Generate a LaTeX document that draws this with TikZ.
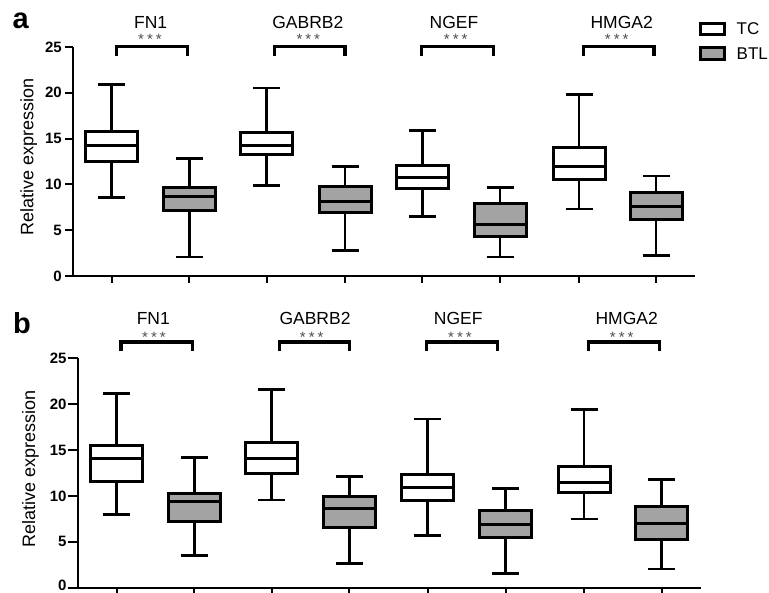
\documentclass[tikz,border=0pt]{standalone}
\usepackage{fontspec}
\setmainfont{Liberation Sans}
\definecolor{btlgray}{RGB}{163,163,163}
\tikzset{
  axisline/.style={line width=2pt},
  boxline/.style={line width=3pt},
  whisk/.style={line width=2.8pt},
  brk/.style={line width=3.2pt, line join=miter},
  ticklab/.style={font=\fontsize{15}{15}\selectfont\bfseries, anchor=east, inner sep=0pt},
  genelab/.style={font=\fontsize{17.5}{17.5}\selectfont, anchor=base, inner sep=0pt},
  starlab/.style={font=\fontsize{15}{15}\selectfont, anchor=base, inner sep=0pt, text=black!70},
  ylab/.style={font=\fontsize{18}{18}\selectfont, rotate=90, inner sep=0pt},
  panel/.style={font=\fontsize{29}{29}\selectfont\bfseries, anchor=base west, inner sep=0pt},
  leglab/.style={font=\fontsize{17}{17}\selectfont, anchor=base west, inner sep=0pt},
}
% #1 x, #2 axis y (value 0), #3 low, #4 q1, #5 median, #6 q3, #7 high, #8 fill
\newcommand{\bwplot}[8]{%
  \pgfmathsetmacro\bwlo{#2-9.17*#3}%
  \pgfmathsetmacro\bwqa{#2-9.17*#4}%
  \pgfmathsetmacro\bwme{#2-9.17*#5}%
  \pgfmathsetmacro\bwqb{#2-9.17*#6}%
  \pgfmathsetmacro\bwhi{#2-9.17*#7}%
  \draw[whisk] (#1,\bwlo) -- (#1,\bwqa) (#1,\bwqb) -- (#1,\bwhi);
  \draw[whisk] (#1-13.5,\bwlo) -- (#1+13.5,\bwlo) (#1-13.5,\bwhi) -- (#1+13.5,\bwhi);
  \filldraw[boxline, fill=#8] (#1-26,\bwqa) rectangle (#1+26,\bwqb);
  \draw[boxline] (#1-26,\bwme) -- (#1+26,\bwme);
}
\newcommand{\bracketat}[3]{% x1, x2, top y
  \draw[brk] (#1,#3+9.5) -- (#1,#3) -- (#2,#3) -- (#2,#3+9.5);
}
\begin{document}
\begin{tikzpicture}[x=1pt,y=-1pt]
\useasboundingbox (0,0) rectangle (769,593);

% ================= panel a =================
\node[panel] (pa) at (12.5,28.5) {a};
% axes
\draw[axisline] (72.7,47) -- (72.7,276) -- (695,276);
\foreach \v in {0,5,10,15,20,25} {
  \draw[axisline] (65,276-9.16*\v) -- (72.7,276-9.16*\v);
  \node[ticklab] (ta\v) at (62,276-9.16*\v) {\v};
}
\foreach \x in {111.7,189.3,266.7,345,422.3,500,579,656} {
  \draw[axisline] (\x,276) -- (\x,283);
}
\node[ylab] (yla) at (28.7,157) {Relative expression};

% boxes
\bwplot{111.7}{276}{8.6}{12.5}{14.2}{15.8}{20.9}{white}
\bwplot{189.3}{276}{2.07}{7.1}{8.65}{9.7}{12.8}{btlgray}
\bwplot{266.7}{276}{9.9}{13.3}{14.25}{15.6}{20.5}{white}
\bwplot{345}{276}{2.76}{6.9}{8.07}{9.75}{11.9}{btlgray}
\bwplot{422.3}{276}{6.5}{9.5}{10.7}{12.1}{15.9}{white}
\bwplot{500}{276}{2.07}{4.3}{5.67}{7.9}{9.67}{btlgray}
\bwplot{579}{276}{7.3}{10.5}{11.9}{14.0}{19.8}{white}
\bwplot{656}{276}{2.2}{6.2}{7.55}{9.1}{10.9}{btlgray}

% brackets, stars, gene names
\bracketat{116.7}{187.7}{46.5}
\bracketat{274.3}{345}{46.5}
\bracketat{421.7}{493.3}{46.5}
\bracketat{583.3}{654}{46.5}
\node[starlab] (sa1) at (150,44.5) {*\kern3pt*\kern3pt*};
\node[starlab] (sa2) at (308.3,44.5) {*\kern3pt*\kern3pt*};
\node[starlab] (sa3) at (455.7,44.5) {*\kern3pt*\kern3pt*};
\node[starlab] (sa4) at (616.7,44.5) {*\kern3pt*\kern3pt*};
\node[genelab] (ga1) at (150.7,29) {FN1};
\node[genelab] (ga2) at (307.8,29) {GABRB2};
\node[genelab] (ga3) at (454,29) {NGEF};
\node[genelab] (ga4) at (621.7,29) {HMGA2};

% legend
\draw[boxline] (700,23.5) rectangle (724,34.5);
\filldraw[boxline, fill=btlgray] (700,48) rectangle (724,60);
\node[leglab] (ltc) at (736.5,34.5) {TC};
\node[leglab] (lbtl) at (736.5,60) {BTL};

% ================= panel b =================
\node[panel] (pb) at (13,333.3) {b};
\draw[axisline] (78,358.3) -- (78,587.7) -- (700.7,587.7);
\foreach \v in {0,5,10,15,20,25} {
  \draw[axisline] (67.7,587.7-9.176*\v) -- (78,587.7-9.176*\v);
}
\foreach \v in {5,10,15,20,25} {
  \node[ticklab] (tb\v) at (66.7,587.7-9.176*\v) {\v};
}
\node[ticklab] (tb0) at (66.7,585.6) {0};
\foreach \x in {116.7,194.3,271.7,349.3,427.7,505.7,584,661.7} {
  \draw[axisline] (\x,587.7) -- (\x,600);
}
\node[ylab] (ylb) at (30.5,469) {Relative expression};

\bwplot{116.7}{587.7}{8.0}{11.56}{14.1}{15.56}{21.2}{white}
\bwplot{194.3}{587.7}{3.5}{7.27}{9.45}{10.3}{14.2}{btlgray}
\bwplot{271.7}{587.7}{9.56}{12.5}{14.1}{15.85}{21.6}{white}
\bwplot{349.3}{587.7}{2.6}{6.6}{8.65}{9.9}{12.1}{btlgray}
\bwplot{427.7}{587.7}{5.7}{9.5}{10.95}{12.3}{18.4}{white}
\bwplot{505.7}{587.7}{1.57}{5.45}{6.9}{8.4}{10.8}{btlgray}
\bwplot{584}{587.7}{7.5}{10.36}{11.45}{13.2}{19.45}{white}
\bwplot{661.7}{587.7}{2.04}{5.3}{7.0}{8.9}{11.8}{btlgray}

\bracketat{121}{192.3}{342}
\bracketat{279.3}{349.3}{342}
\bracketat{426.7}{497.3}{342}
\bracketat{588.3}{659.3}{342}
\node[starlab] (sb1) at (154,343) {*\kern3pt*\kern3pt*};
\node[starlab] (sb2) at (311.7,343) {*\kern3pt*\kern3pt*};
\node[starlab] (sb3) at (460,343) {*\kern3pt*\kern3pt*};
\node[starlab] (sb4) at (621.7,343) {*\kern3pt*\kern3pt*};
\node[genelab] (gb1) at (153.3,325) {FN1};
\node[genelab] (gb2) at (315,325) {GABRB2};
\node[genelab] (gb3) at (458.3,325) {NGEF};
\node[genelab] (gb4) at (626.7,325) {HMGA2};
\end{tikzpicture}
\end{document}
